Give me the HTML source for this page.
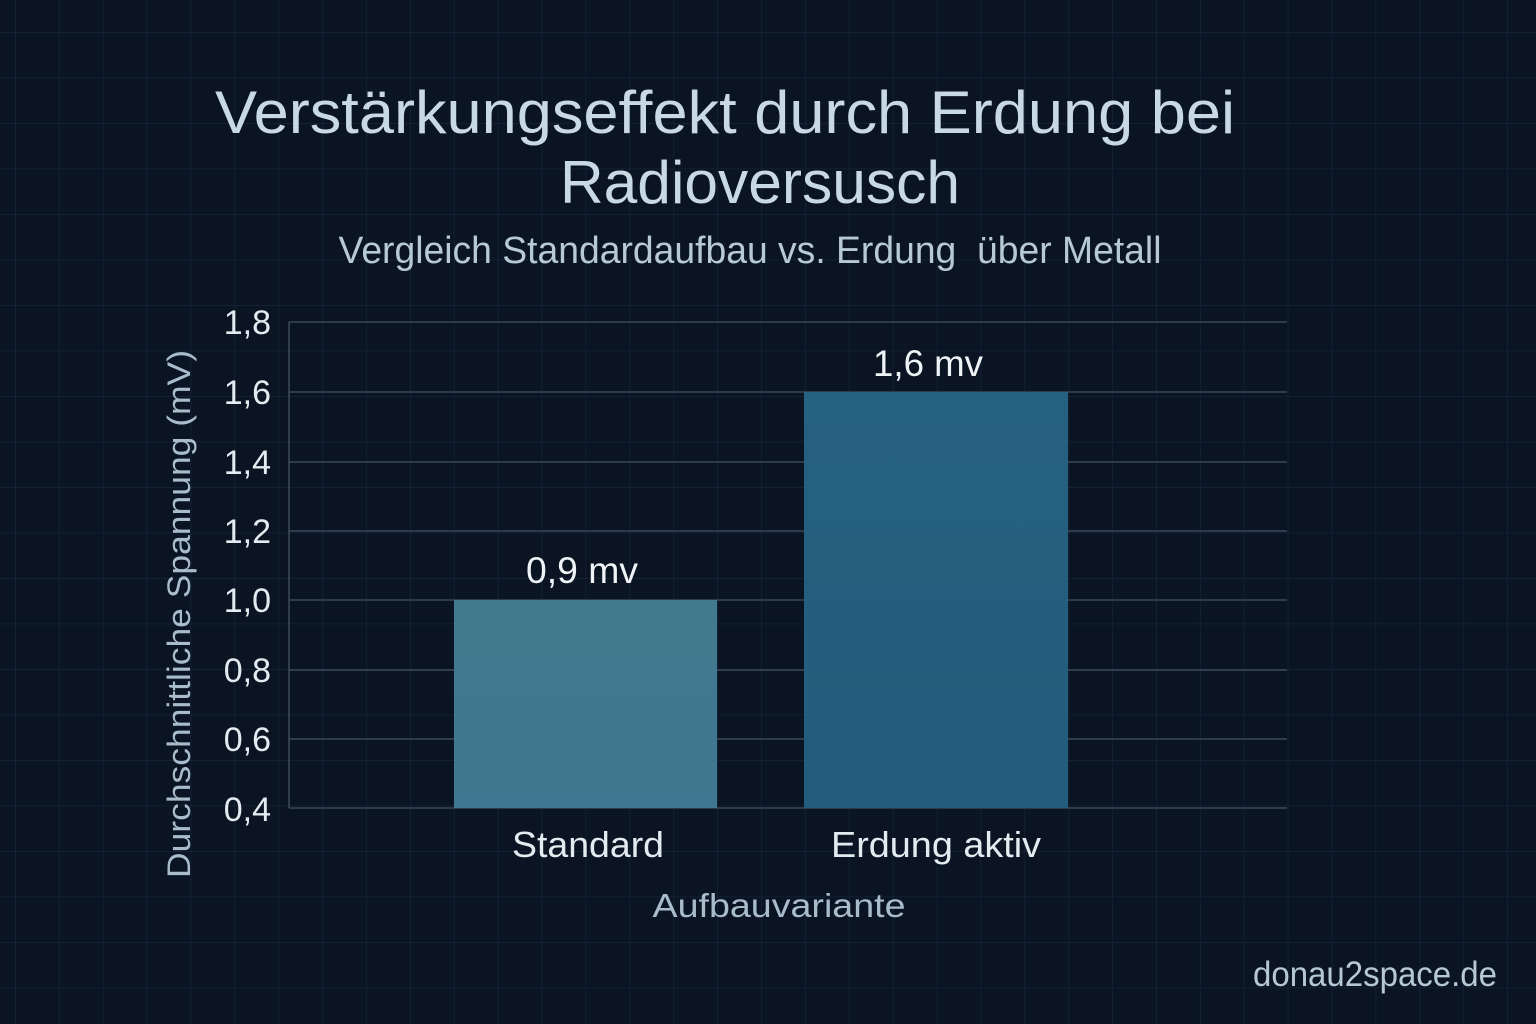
<!DOCTYPE html>
<html>
<head>
<meta charset="utf-8">
<style>
  html,body{margin:0;padding:0;background:#0a1422;}
  svg{display:block;}
  text{font-family:"Liberation Sans", sans-serif; white-space:pre;}
</style>
</head>
<body>
<svg width="1536" height="1024" viewBox="0 0 1536 1024" xmlns="http://www.w3.org/2000/svg">
  <defs>
    <pattern id="bg" x="15" y="32" width="43.886" height="45.5" patternUnits="userSpaceOnUse">
      <path d="M0 0 H43.886 M0 0 V45.5" stroke="#16253a" stroke-width="1.4" fill="none"/>
    </pattern>
    <linearGradient id="b1" x1="0" y1="0" x2="0" y2="1">
      <stop offset="0" stop-color="#43798f"/>
      <stop offset="1" stop-color="#3f7890"/>
    </linearGradient>
    <linearGradient id="b2" x1="0" y1="0" x2="0" y2="1">
      <stop offset="0" stop-color="#256180"/>
      <stop offset="1" stop-color="#235c7c"/>
    </linearGradient>
  </defs>
  <rect width="1536" height="1024" fill="#0a1422"/>
  <rect width="1536" height="1024" fill="url(#bg)"/>

  <!-- Title -->
  <text x="725" y="133" font-size="60" fill="#c9d9e3" text-anchor="middle" textLength="1020" lengthAdjust="spacingAndGlyphs">Verstärkungseffekt durch Erdung bei</text>
  <text x="760" y="203" font-size="60" fill="#c9d9e3" text-anchor="middle" textLength="400" lengthAdjust="spacingAndGlyphs">Radioversusch</text>
  <text x="750" y="263" font-size="38" fill="#b6c9d5" text-anchor="middle" textLength="823" lengthAdjust="spacingAndGlyphs">Vergleich Standardaufbau vs. Erdung  über Metall</text>

  <!-- Plot grid -->
  <g stroke="#3a4858" stroke-width="1.6">
    <line x1="289" y1="322" x2="1287" y2="322"/>
    <line x1="289" y1="392" x2="1287" y2="392"/>
    <line x1="289" y1="462" x2="1287" y2="462"/>
    <line x1="289" y1="531" x2="1287" y2="531"/>
    <line x1="289" y1="600" x2="1287" y2="600"/>
    <line x1="289" y1="670" x2="1287" y2="670"/>
    <line x1="289" y1="739" x2="1287" y2="739"/>
    <line x1="289" y1="808" x2="1287" y2="808"/>
    <line x1="289" y1="322" x2="289" y2="808"/>
  </g>

  <!-- Bars -->
  <rect x="454" y="600" width="263" height="208" fill="url(#b1)"/>
  <rect x="804" y="392" width="264" height="416" fill="url(#b2)"/>

  <!-- Value labels -->
  <text x="582" y="583" font-size="37" fill="#eef3f6" text-anchor="middle" textLength="112" lengthAdjust="spacingAndGlyphs">0,9 mv</text>
  <text x="928" y="376" font-size="37" fill="#eef3f6" text-anchor="middle" textLength="110" lengthAdjust="spacingAndGlyphs">1,6 mv</text>

  <!-- Y tick labels -->
  <g font-size="34" fill="#e4ebf0" text-anchor="end">
    <text x="271" y="334">1,8</text>
    <text x="271" y="404">1,6</text>
    <text x="271" y="474">1,4</text>
    <text x="271" y="543">1,2</text>
    <text x="271" y="612">1,0</text>
    <text x="271" y="682">0,8</text>
    <text x="271" y="751">0,6</text>
    <text x="271" y="821">0,4</text>
  </g>

  <!-- X category labels -->
  <text x="588" y="857" font-size="36" fill="#e4ebf0" text-anchor="middle" textLength="152" lengthAdjust="spacingAndGlyphs">Standard</text>
  <text x="936" y="857" font-size="36" fill="#e4ebf0" text-anchor="middle" textLength="210" lengthAdjust="spacingAndGlyphs">Erdung aktiv</text>

  <!-- Axis titles -->
  <text x="779" y="917" font-size="33" fill="#a9bccb" text-anchor="middle" textLength="253" lengthAdjust="spacingAndGlyphs">Aufbauvariante</text>
  <text transform="translate(190,614) rotate(-90)" x="0" y="0" font-size="32" fill="#a9bccb" text-anchor="middle" textLength="528" lengthAdjust="spacingAndGlyphs">Durchschnittliche Spannung (mV)</text>

  <!-- Watermark -->
  <text x="1375" y="986" font-size="35" fill="#b5c8d4" text-anchor="middle" textLength="244" lengthAdjust="spacingAndGlyphs">donau2space.de</text>
</svg>
</body>
</html>
